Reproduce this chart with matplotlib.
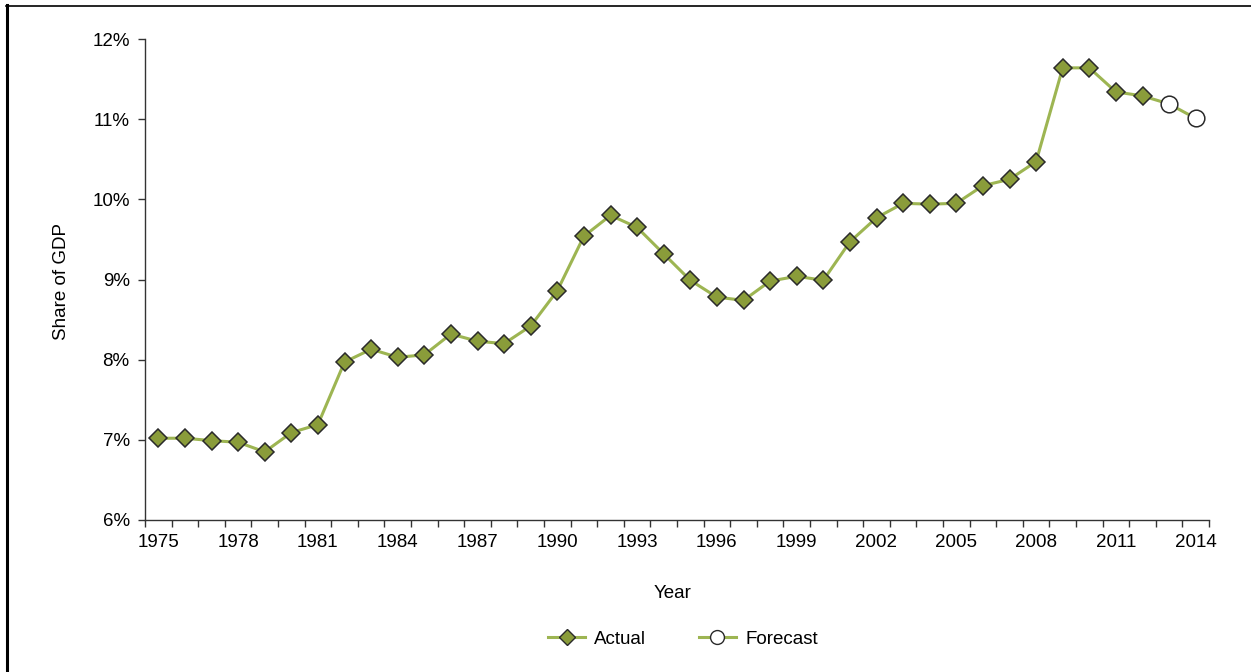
import matplotlib
matplotlib.use("Agg")
import matplotlib.pyplot as plt
from matplotlib.lines import Line2D
from matplotlib.ticker import FixedLocator, FuncFormatter

plt.rcParams['font.family'] = ['Liberation Sans', 'DejaVu Sans']

years = list(range(1975, 2015))
actual = [7.02, 7.02, 6.99, 6.97, 6.85, 7.09, 7.19, 7.97, 8.13, 8.03,
          8.06, 8.32, 8.23, 8.20, 8.42, 8.86, 9.54, 9.80, 9.65, 9.32,
          8.99, 8.78, 8.74, 8.98, 9.04, 8.99, 9.47, 9.77, 9.95, 9.94,
          9.95, 10.17, 10.25, 10.47, 11.64, 11.64, 11.34, 11.29]
forecast = [11.19, 11.01]

line_col = '#9db552'
face_col = '#8a9c3a'
edge_col = '#2a2a2a'
fs = 13.5

fig = plt.figure(figsize=(12.51, 6.72), dpi=100)
ax = fig.add_axes([145 / 1251, 1 - 520 / 672, (1209 - 145) / 1251, (520 - 39) / 672])

idx = list(range(len(years)))
n_act = len(actual)
# one continuous line through actual and forecast values
ax.plot(idx, actual + forecast, color=line_col, lw=2.2, zorder=2)
ax.plot(idx[:n_act], actual, ls='none', marker='D', ms=9, mfc=face_col,
        mec=edge_col, mew=1.1, zorder=3)
ax.plot(idx[n_act:], forecast, ls='none', marker='o', ms=12, mfc='white',
        mec=edge_col, mew=1.1, zorder=3)

ax.set_xlim(-0.5, len(years) - 0.5)
ax.set_ylim(6, 12)
ax.set_yticks(range(6, 13))
ax.yaxis.set_major_formatter(FuncFormatter(lambda v, p: '{:d}%'.format(int(v))))

# ticks on category boundaries, labels every third year
ax.xaxis.set_major_locator(FixedLocator([i - 0.5 for i in range(len(years) + 1)]))
ax.xaxis.set_minor_locator(FixedLocator(idx[::3]))
ax.xaxis.set_major_formatter(FuncFormatter(lambda v, p: ''))
ax.xaxis.set_minor_formatter(FuncFormatter(lambda v, p: str(years[int(round(v))])))
ax.tick_params(axis='x', which='minor', length=0, labelsize=fs, pad=10)
ax.tick_params(axis='x', which='major', length=5, width=1, color='#333333')
ax.tick_params(axis='y', length=5, width=1, color='#333333', labelsize=fs, pad=6)

for s in ['top', 'right']:
    ax.spines[s].set_visible(False)
for s in ['left', 'bottom']:
    ax.spines[s].set_color('#333333')
    ax.spines[s].set_linewidth(1)

ax.set_xlabel('Year', fontsize=fs)
ax.set_ylabel('Share of GDP', fontsize=fs)
ax.xaxis.set_label_coords(0.496, -0.135)
ax.yaxis.set_label_coords(-0.0705, 0.495)

handles = [
    Line2D([], [], color=line_col, lw=2.2, marker='D', ms=8, mfc=face_col, mec=edge_col),
    Line2D([], [], color=line_col, lw=2.2, marker='o', ms=10, mfc='white', mec=edge_col),
]
fig.legend(handles, ['Actual', 'Forecast'], loc='center', bbox_to_anchor=(683 / 1251, 1 - 639 / 672),
           ncol=2, frameon=False, fontsize=fs, handlelength=1.97, handletextpad=0.5,
           columnspacing=2.8)

# page frame lines (left and top)
fig.add_artist(Line2D([6.5 / 1251, 6.5 / 1251], [0, 1 - 5 / 672], color='black', lw=2.2))
fig.add_artist(Line2D([6 / 1251, 1], [1 - 5.5 / 672, 1 - 5.5 / 672], color='black', lw=1.2))

fig.savefig('out.png', dpi=100)
